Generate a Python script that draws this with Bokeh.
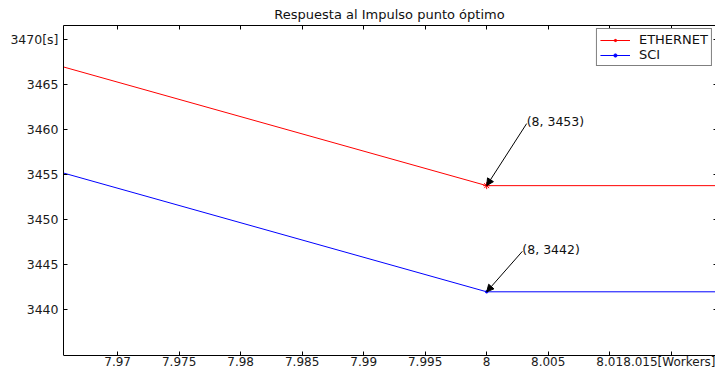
from bokeh.plotting import figure
from bokeh.models import (Range1d, LinearAxis, FixedTicker, Arrow, NormalHead,
                          Legend, LegendItem, ColumnDataSource)
from bokeh.core.properties import value
from bokeh.embed import file_html
from bokeh.resources import INLINE

# Execution time [s] against number of workers
workers = [7, 8, 9]
ethernet = [3837.3, 3453.8, 3453.8]
sci = [3825.8, 3442.0, 3442.0]

x_ticks = [7.97, 7.975, 7.98, 7.985, 7.99, 7.995, 8.0, 8.005, 8.01, 8.015]
x_tick_labels = ["7.97", "7.975", "7.98", "7.985", "7.99", "7.995", "8",
                 "8.005", "8.01", "8.015[Workers]"]
y_ticks = [3440, 3445, 3450, 3455, 3460, 3465, 3470]
y_tick_labels = ["3440", "3445", "3450", "3455", "3460", "3465", "3470[s]"]

# axes box limits
x_lim = (7.9656, 8.0186)
y_lim = (3434.92, 3471.6)

# optimum point and where its call-out text sits
opt = 1
eth_note = (8.00325, 3460.7)
sci_note = (8.0029, 3446.5)

FONT = "DejaVu Sans"
FS = "12.5px"
PX_PER_Y = 9.0  # vertical scale of the frame, px per second

# the frame runs down to the bottom edge; the x axis sits at y_lim[0]
# with its tick labels in the strip underneath
p = figure(width=715, height=368, output_backend="svg", toolbar_location=None,
           x_range=Range1d(*x_lim),
           y_range=Range1d(y_lim[0] - 13 / PX_PER_Y, y_lim[1]),
           x_axis_type=None, y_axis_type=None,
           min_border_left=63, min_border_right=0, min_border_top=25,
           min_border_bottom=0,
           title="Respuesta al Impulso punto óptimo")
p.outline_line_color = None
p.background_fill_color = "white"
p.border_fill_color = "white"
p.title.align = "center"
p.title.text_font = FONT
p.title.text_font_size = "13px"
p.title.text_font_style = "normal"
p.title.text_color = "#111111"
p.title.standoff = 7


def make_axis(ticks, labels, show_labels, standoff, size=FS, **kw):
    return LinearAxis(ticker=FixedTicker(ticks=ticks),
                      major_label_overrides=dict(zip(ticks, labels)),
                      axis_line_color="black", axis_line_width=1,
                      major_tick_line_color="black", major_tick_in=4, major_tick_out=0,
                      minor_tick_line_color=None,
                      major_label_text_font=FONT,
                      major_label_text_font_size=size if show_labels else "0px",
                      major_label_text_color="#1a1a1a" if show_labels else None,
                      major_label_standoff=standoff, **kw)


p.add_layout(make_axis(y_ticks, y_tick_labels, True, 5, bounds=y_lim), "left")
p.add_layout(make_axis(x_ticks, x_tick_labels, True, -1, size="12px",
                       fixed_location=y_lim[0]), "below")
p.add_layout(make_axis(x_ticks, x_tick_labels, False, 0), "above")
# right side of the box: tick marks only, at the frame edge
right_axis = make_axis(y_ticks, y_tick_labels, False, 0, bounds=y_lim,
                       fixed_location=x_lim[1])
right_axis.axis_line_color = None
right_axis.major_tick_in = 2
p.add_layout(right_axis, "right")

src = ColumnDataSource(dict(w=workers, eth=ethernet, sci=sci))

eth_line = p.line("w", "eth", source=src, color="#ff0000", line_width=1)
eth_pts = p.scatter("w", "eth", source=src, marker="asterisk", size=7,
                    line_color="#ff0000", line_width=1)
sci_line = p.line("w", "sci", source=src, color="#0000ff", line_width=1)
sci_pts = p.scatter("w", "sci", source=src, marker="circle", size=2.5,
                    color="#0000ff")

# call-outs pointing at the optimum
for (nx, ny), series in ((eth_note, ethernet), (sci_note, sci)):
    p.add_layout(Arrow(x_start=nx, y_start=ny, x_end=workers[opt], y_end=series[opt],
                       line_color="black", line_width=1,
                       end=NormalHead(size=7, fill_color="black", line_color="black")))
    p.text(x=[nx], y=[ny], text=[f"({workers[opt]:g}, {int(series[opt])})"],
           text_font=value(FONT), text_font_size=FS, text_color="#111111",
           text_align="left", text_baseline="middle", y_offset=-2)

legend = Legend(items=[LegendItem(label="ETHERNET", renderers=[eth_line, eth_pts]),
                       LegendItem(label="SCI", renderers=[sci_line, sci_pts])],
                location="top_right", margin=3, padding=3, spacing=0,
                glyph_width=30, glyph_height=8, label_height=8,
                label_standoff=9, label_text_font=FONT, label_text_font_size="13px",
                label_text_color="#111111",
                border_line_color="black", border_line_width=1,
                background_fill_color="white", background_fill_alpha=1)
p.add_layout(legend)

open("out.html", "w").write(file_html(p, INLINE))
